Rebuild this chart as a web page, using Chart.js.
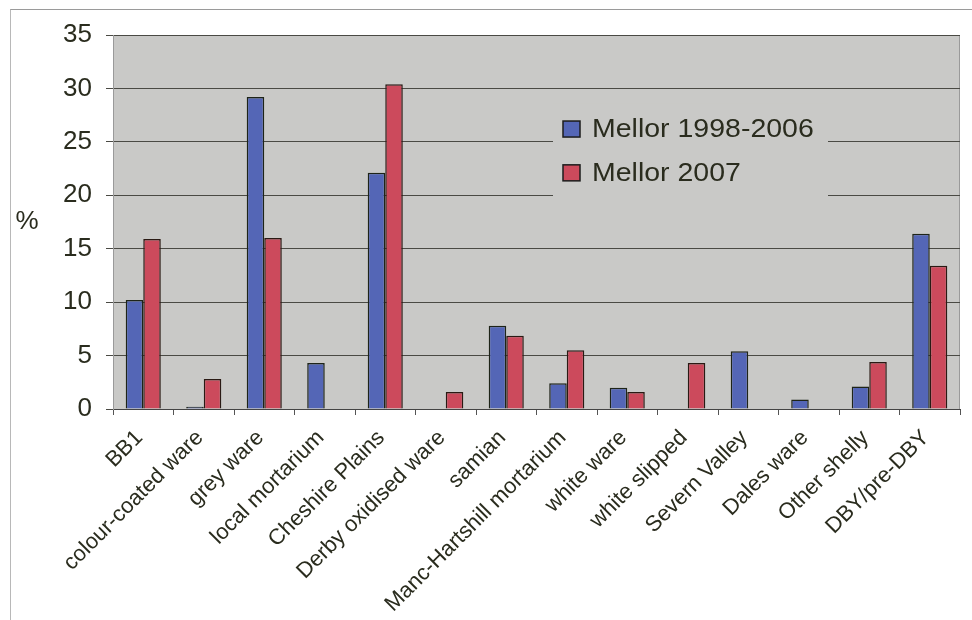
<!DOCTYPE html>
<html>
<head>
<meta charset="utf-8">
<script src="https://cdn.jsdelivr.net/npm/chart.js@4.4.1/dist/chart.umd.min.js"></script>
<style>
  html, body { margin: 0; padding: 0; background: #ffffff; }
  #wrap { position: relative; width: 972px; height: 620px; }
  #frame { position: absolute; left: 10px; top: 9px; width: 980px; height: 640px; border-left: 1px solid #b8b8b8; border-top: 1px solid #9a9a9a; box-sizing: border-box; }
  canvas { position: absolute; left: 0; top: 0; }
</style>
</head>
<body>
<div id="wrap">
  <div id="frame"></div>
  <canvas id="c" width="972" height="620"></canvas>
</div>
<script>
const categories = ["BB1", "colour-coated ware", "grey ware", "local mortarium", "Cheshire Plains", "Derby oxidised ware", "samian", "Manc-Hartshill mortarium", "white ware", "white slipped", "Severn Valley", "Dales ware", "Other shelly", "DBY/pre-DBY"];
const mellor1998_2006 = [10.2, 0.2, 29.2, 4.3, 22.1, 0, 7.8, 2.4, 2.0, 0, 5.4, 0.9, 2.1, 16.4];
const mellor2007 = [15.9, 2.8, 16.0, 0, 30.4, 1.6, 6.85, 5.5, 1.6, 4.3, 0, 0, 4.4, 13.4];
const seriesNames = ["Mellor 1998-2006", "Mellor 2007"];
const yTicks = [0, 5, 10, 15, 20, 25, 30, 35];

const BLUE = "#5466b6";
const RED = "#cc4a5c";
const PLOT_BG = "#c9c9c7";
const TEXT = "#2a2c1e";

const bgPlugin = {
  id: "plotBg",
  beforeDraw(chart) {
    const { ctx, chartArea: a } = chart;
    ctx.save();
    ctx.fillStyle = PLOT_BG;
    ctx.fillRect(a.left, a.top, a.right - a.left, a.bottom - a.top);
    ctx.strokeStyle = "#9a9a9a";
    ctx.lineWidth = 1;
    ctx.strokeRect(a.left + 0.5, a.top + 0.5, a.right - a.left - 1, a.bottom - a.top);
    ctx.restore();
  },
  afterDatasetsDraw(chart) {
    const { ctx } = chart;
    const y = chart.scales.y;
    ctx.save();
    // legend box covering gridlines
    const lx = 553, ly = y.getPixelForValue(28.6), lw = 275, lh = y.getPixelForValue(17.5) - ly;
    ctx.fillStyle = PLOT_BG;
    ctx.fillRect(lx, ly, lw, lh);
    const colors = [BLUE, RED];
    const rows = [y.getPixelForValue(26.2), y.getPixelForValue(22.1)];
    ctx.textBaseline = "middle";
    ctx.textAlign = "left";
    for (let i = 0; i < 2; i++) {
      ctx.fillStyle = colors[i];
      ctx.fillRect(563, rows[i] - 8, 17, 16);
      ctx.strokeStyle = "#1c1c1c";
      ctx.lineWidth = 1.5;
      ctx.strokeRect(563, rows[i] - 8, 17, 16);
      ctx.fillStyle = TEXT;
      ctx.save();
      ctx.translate(592, rows[i] + 1);
      ctx.scale(1.14, 1);
      ctx.font = "25px Arial, 'Liberation Sans', sans-serif";
      ctx.fillText(seriesNames[i], 0, 0);
      ctx.restore();
    }
    // y axis title
    ctx.font = "26px Arial, 'Liberation Sans', sans-serif";
    ctx.textAlign = "center";
    ctx.fillText("%", 27, y.getPixelForValue(17.5));
    ctx.restore();
  }
};

new Chart(document.getElementById("c"), {
  type: "bar",
  data: {
    labels: categories,
    datasets: [
      { label: seriesNames[0], data: mellor1998_2006, backgroundColor: BLUE, borderColor: "#1e2418", borderWidth: 1.5, borderSkipped: "bottom" },
      { label: seriesNames[1], data: mellor2007, backgroundColor: RED, borderColor: "#2a1a14", borderWidth: 1.5, borderSkipped: "bottom" }
    ]
  },
  options: {
    responsive: false,
    animation: false,
    devicePixelRatio: 1,
    layout: { padding: { top: 35, left: 0, right: 12, bottom: 0 } },
    plugins: { legend: { display: false }, tooltip: { enabled: false } },
    datasets: { bar: { categoryPercentage: 0.58, barPercentage: 1.0 } },
    scales: {
      x: {
        offset: true,
        grid: { display: true, drawOnChartArea: false, drawTicks: true, tickLength: 6, color: "#555", offset: true },
        border: { display: true, color: "#444", width: 1 },
        ticks: {
          color: TEXT,
          font: { family: "Arial, 'Liberation Sans', sans-serif", size: 22 },
          minRotation: 45, maxRotation: 45, autoSkip: false, padding: 10, labelOffset: -4
        },
        afterFit(scale) { scale.height = 211; }
      },
      y: {
        min: 0, max: 35,
        afterBuildTicks(scale) { scale.ticks = yTicks.map(v => ({ value: v })); },
        grid: { color: "#4a4a44", lineWidth: 1, drawTicks: true, tickLength: 7 },
        border: { display: true, color: "#9a9a9a" },
        ticks: {
          color: TEXT,
          font: { family: "Arial, 'Liberation Sans', sans-serif", size: 26 },
          padding: 14
        },
        afterFit(scale) { scale.width = 113; }
      }
    }
  },
  plugins: [bgPlugin]
});
</script>
</body>
</html>
